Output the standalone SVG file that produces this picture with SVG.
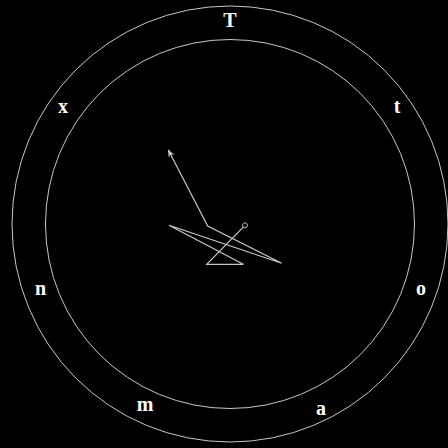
<svg xmlns="http://www.w3.org/2000/svg" width="448" height="448" viewBox="0 0 448 448">
<style>
.ring{fill:none;stroke:#c8c8c8;stroke-width:1}
.lbl{font-family:"Liberation Serif",serif;font-weight:bold;font-size:20px;fill:#ffffff;text-anchor:middle}
.conn{fill:none;stroke:#c8c8c8;stroke-width:1.2;stroke-linejoin:miter}
</style>
<defs>
<marker id="arr" viewBox="0 0 10 10" refX="9" refY="5" markerWidth="8" markerHeight="8" markerUnits="userSpaceOnUse" orient="auto">
<path d="M0,1 L10,5 L0,9 L3,5 Z" fill="#c8c8c8"/>
</marker>
<marker id="dot" viewBox="0 0 10 10" refX="5" refY="5" markerWidth="7" markerHeight="7" markerUnits="userSpaceOnUse" orient="auto">
<circle cx="5" cy="5" r="3.6" fill="#000" stroke="#c8c8c8" stroke-width="1.3"/>
</marker>
</defs>
<rect width="448" height="448" fill="#000"/>
<g id="rings">
<circle class="ring" cx="230" cy="224" r="218"/>
<circle class="ring" cx="230" cy="224" r="184.5"/>
</g>
<g id="labels">
<g id="node-T"><text class="lbl" x="230" y="27">T</text></g>
<g id="node-t"><text class="lbl" x="397" y="113">t</text></g>
<g id="node-o"><text class="lbl" x="421" y="295">o</text></g>
<g id="node-a"><text class="lbl" x="321" y="415">a</text></g>
<g id="node-m"><text class="lbl" x="145" y="411">m</text></g>
<g id="node-n"><text class="lbl" x="40.5" y="295">n</text></g>
<g id="node-x"><text class="lbl" x="63" y="113">x</text></g>
</g>
<g id="connectors">
<polyline class="conn" points="245,225.3 206.7,264.3 243.3,264.3 169,225.3 281.7,263.3 207.7,226 168.3,150" marker-start="url(#dot)" marker-end="url(#arr)"/>
</g>
</svg>
